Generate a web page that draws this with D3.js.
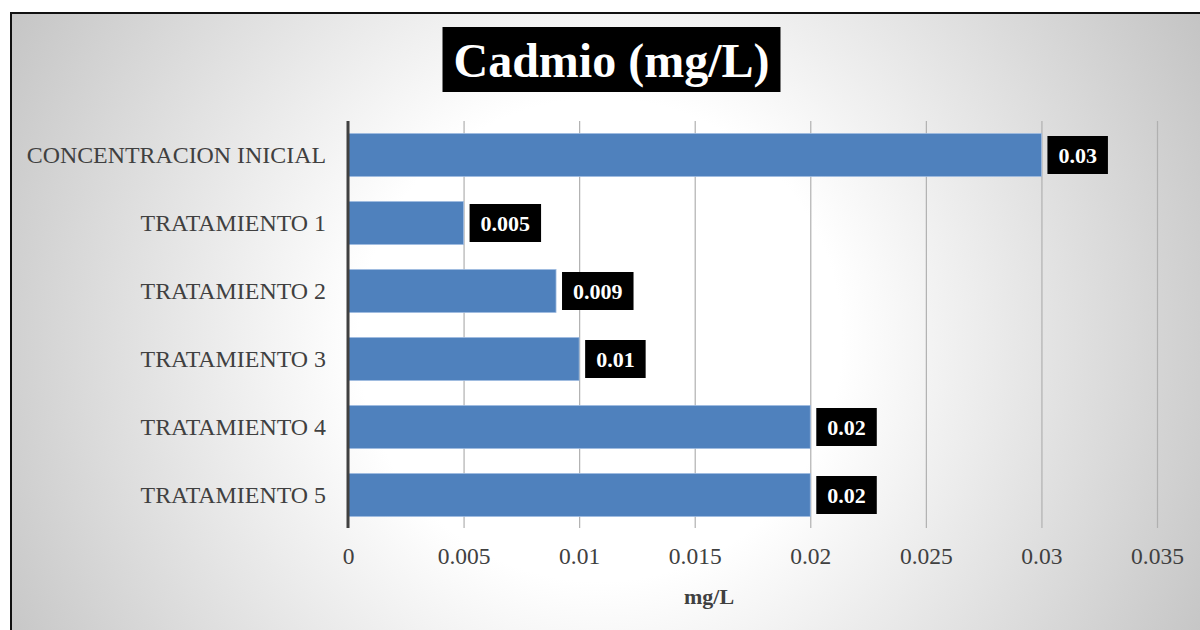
<!DOCTYPE html>
<html>
<head>
<meta charset="utf-8">
<script src="https://cdn.jsdelivr.net/npm/d3@7/dist/d3.min.js"></script>
<style>
  html, body { margin: 0; padding: 0; background: #ffffff; }
  svg { display: block; }
  text { font-family: "Liberation Serif", "Times New Roman", serif; }
</style>
</head>
<body>
<svg id="chart" width="1200" height="630"></svg>
<script>
// Cadmium concentration per sample (mg/L)
const categories = [
  "CONCENTRACION INICIAL",
  "TRATAMIENTO 1",
  "TRATAMIENTO 2",
  "TRATAMIENTO 3",
  "TRATAMIENTO 4",
  "TRATAMIENTO 5"
];
const values = [0.03, 0.005, 0.009, 0.01, 0.02, 0.02];
const valueLabels = ["0.03", "0.005", "0.009", "0.01", "0.02", "0.02"];
const tickValues = [0, 0.005, 0.01, 0.015, 0.02, 0.025, 0.03, 0.035];
const tickLabels = ["0", "0.005", "0.01", "0.015", "0.02", "0.025", "0.03", "0.035"];
const titleText = "Cadmio (mg/L)";
const axisTitle = "mg/L";

const svg = d3.select("#chart");

// chart area background: soft radial fade from white to grey
const defs = svg.append("defs");
const grad = defs.append("radialGradient")
  .attr("id", "bg")
  .attr("gradientUnits", "userSpaceOnUse")
  .attr("cx", 600).attr("cy", 340).attr("r", 690);
grad.append("stop").attr("offset", 0).attr("stop-color", "#ffffff");
grad.append("stop").attr("offset", 0.35).attr("stop-color", "#ffffff");
grad.append("stop").attr("offset", 1).attr("stop-color", "#c3c3c3");

svg.append("rect")
  .attr("x", 11).attr("y", 13)
  .attr("width", 1210).attr("height", 640)
  .attr("fill", "url(#bg)")
  .attr("stroke", "#111111")
  .attr("stroke-width", 2);

const plotTop = 121, plotBottom = 529;

const x = d3.scaleLinear()
  .domain([0, 0.035])
  .range([348, 1157]);

const y = d3.scaleBand()
  .domain(categories)
  .range([plotTop, plotBottom])
  .paddingInner(0.368)
  .paddingOuter(0.184);

// vertical gridlines + tick labels
const xAxis = d3.axisBottom(x)
  .tickValues(tickValues)
  .tickFormat((d, i) => tickLabels[i])
  .tickSize(-(plotBottom - 1 - plotTop))
  .tickPadding(0);

const gx = svg.append("g")
  .attr("transform", `translate(0,${plotBottom - 1})`)
  .call(xAxis);
gx.select(".domain").remove();
gx.selectAll(".tick line")
  .attr("stroke", "#b0b0b0")
  .attr("stroke-width", 1.2);
gx.selectAll(".tick text")
  .attr("y", 36)
  .attr("dy", 0)
  .attr("fill", "#404040")
  .style("font-size", "23.5px")
  .style("font-family", "'Liberation Serif', 'Times New Roman', serif");

// bars
svg.append("g")
  .selectAll("rect")
  .data(values)
  .join("rect")
  .attr("x", x(0))
  .attr("y", (d, i) => y(categories[i]))
  .attr("width", d => x(d) - x(0))
  .attr("height", y.bandwidth())
  .attr("fill", "#4f81bd")
  .attr("stroke", "#9fbbe0")
  .attr("stroke-width", 0.8);

// category axis line
svg.append("line")
  .attr("x1", x(0)).attr("x2", x(0))
  .attr("y1", plotTop).attr("y2", plotBottom - 1)
  .attr("stroke", "#404040")
  .attr("stroke-width", 3);

// category labels
const yAxis = d3.axisLeft(y).tickSize(0).tickPadding(22);
const gy = svg.append("g")
  .attr("transform", `translate(${x(0)},0)`)
  .call(yAxis);
gy.select(".domain").remove();
gy.selectAll(".tick text")
  .attr("fill", "#404040")
  .attr("dy", "0.34em")
  .style("font-size", "23.9px")
  .style("font-family", "'Liberation Serif', 'Times New Roman', serif");

// value labels in black boxes
const lbl = svg.append("g")
  .selectAll("g")
  .data(values)
  .join("g")
  .attr("transform", (d, i) => `translate(${x(d) + 6},${y(categories[i]) + y.bandwidth() / 2})`);
lbl.append("rect").attr("fill", "#000000");
lbl.append("text")
  .text((d, i) => valueLabels[i])
  .attr("fill", "#ffffff")
  .attr("font-weight", "bold")
  .attr("dy", "0.35em")
  .style("font-size", "22px");
lbl.each(function () {
  const g = d3.select(this);
  const w = g.select("text").node().getComputedTextLength();
  g.select("rect").attr("x", 0).attr("y", -19).attr("width", w + 22).attr("height", 38);
  g.select("text").attr("x", 11);
});

// title
const tg = svg.append("g");
const tt = tg.append("text")
  .text(titleText)
  .attr("x", 611.5)
  .attr("y", 77)
  .attr("text-anchor", "middle")
  .attr("fill", "#ffffff")
  .attr("font-weight", "bold")
  .style("font-size", "48px");
const tw = tt.node().getComputedTextLength();
tg.insert("rect", "text")
  .attr("x", 611.5 - tw / 2 - 11)
  .attr("y", 27)
  .attr("width", tw + 22)
  .attr("height", 65)
  .attr("fill", "#000000");

// value axis title
svg.append("text")
  .text(axisTitle)
  .attr("x", 709)
  .attr("y", 604)
  .attr("text-anchor", "middle")
  .attr("fill", "#404040")
  .attr("font-weight", "bold")
  .style("font-size", "22px");
</script>
</body>
</html>
